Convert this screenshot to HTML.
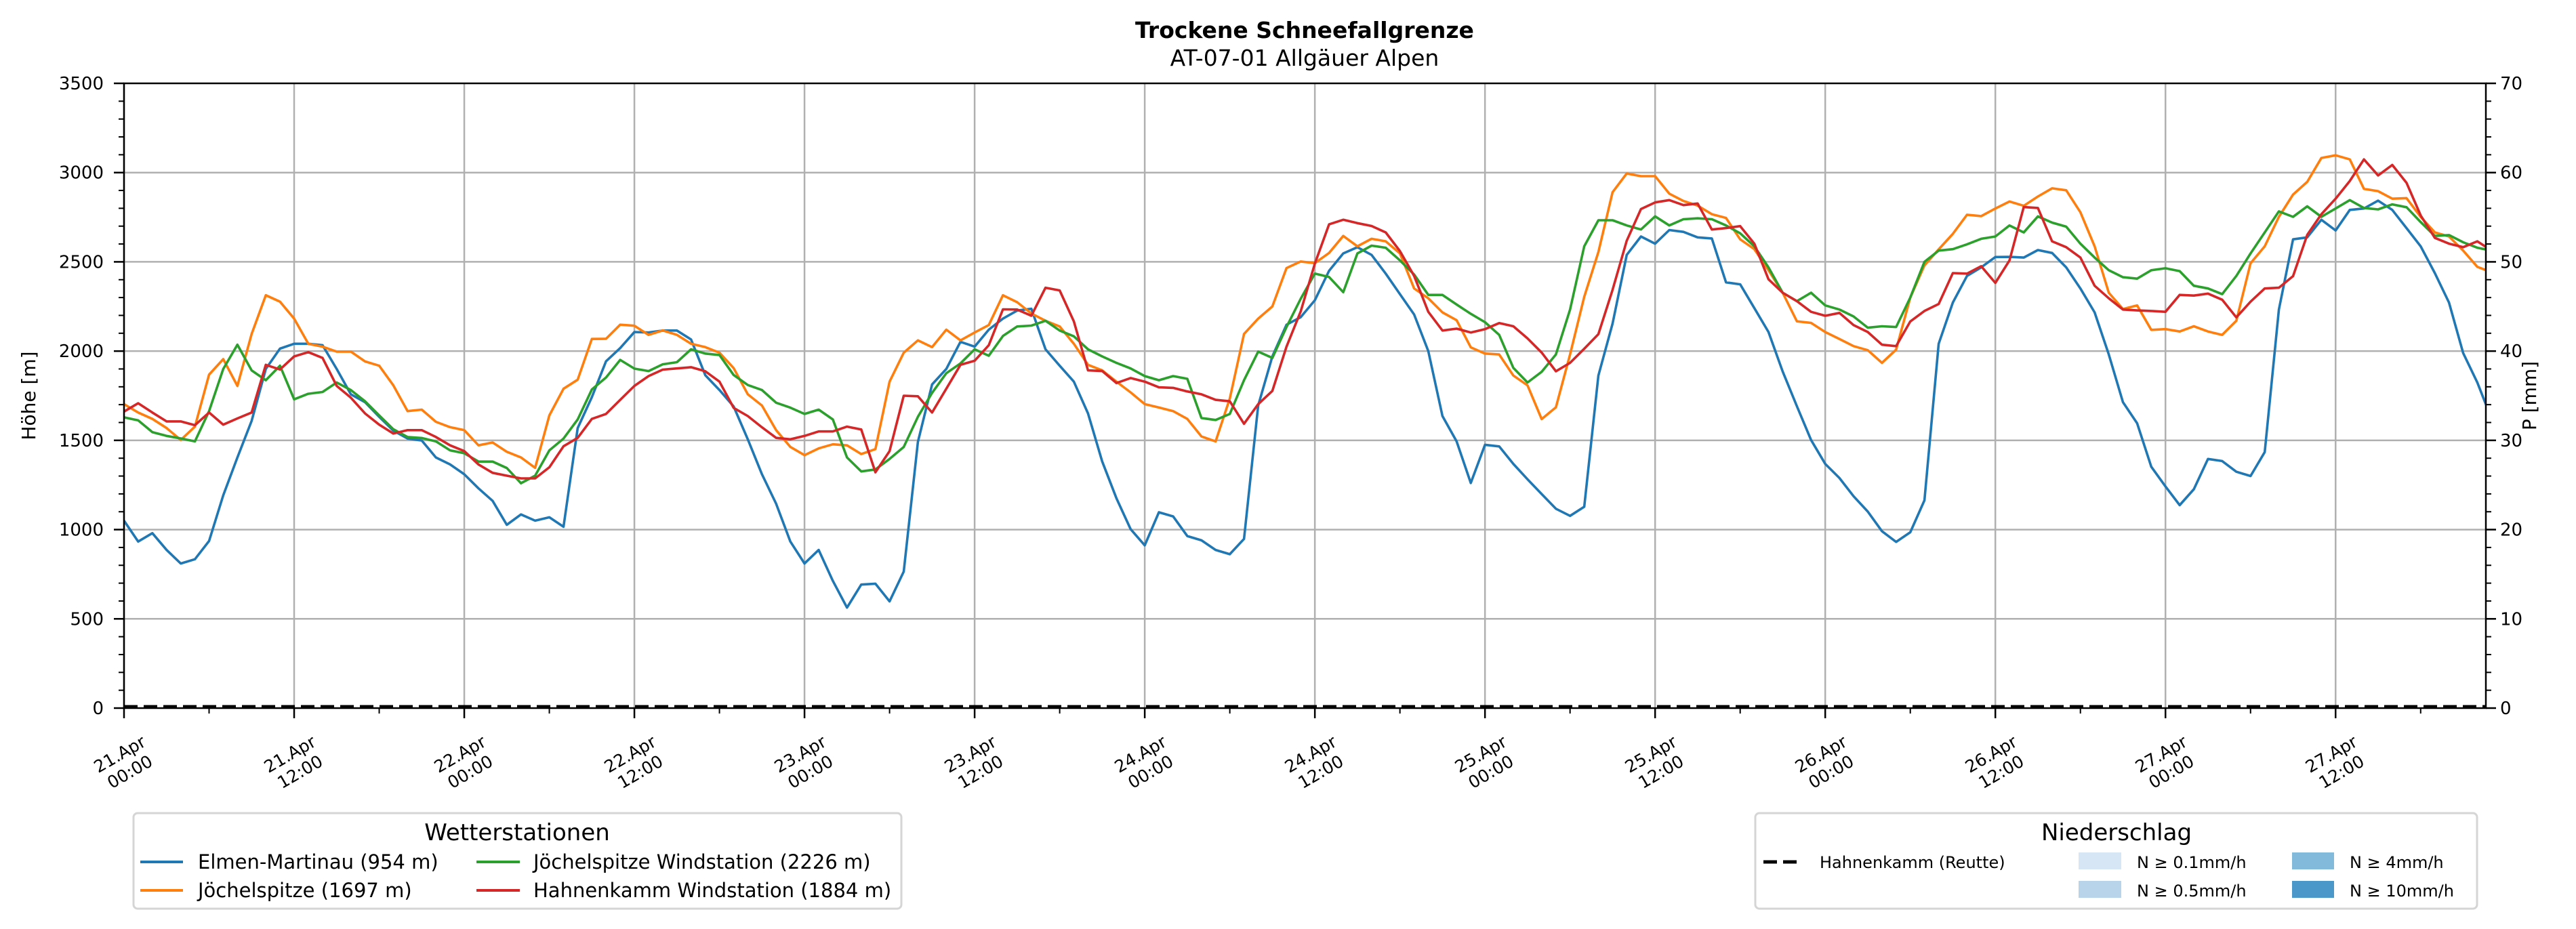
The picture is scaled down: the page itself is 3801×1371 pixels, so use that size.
<!DOCTYPE html>
<html><head><meta charset="utf-8"><style>
html,body{margin:0;padding:0;background:#fff;}
svg{display:block;font-family:"DejaVu Sans","Liberation Sans",sans-serif;}
</style></head><body>
<svg id="chart" width="3801" height="1371" viewBox="0 0 3801 1371" xmlns="http://www.w3.org/2000/svg">
<defs><clipPath id="plotclip"><rect x="183" y="123" width="3485" height="922"/></clipPath></defs>
<text x="1925" y="56" text-anchor="middle" font-size="33" font-weight="bold">Trockene Schneefallgrenze</text>
<text x="1925" y="97" text-anchor="middle" font-size="33">AT-07-01 Allgäuer Alpen</text>
<g id="grid"></g>
<g id="series" clip-path="url(#plotclip)"></g>
<g id="axes"></g>
<text transform="translate(52,584) rotate(-90)" text-anchor="middle" font-size="28">Höhe [m]</text>
<text transform="translate(3742,584) rotate(-90)" text-anchor="middle" font-size="28">P [mm]</text>

<g>
<rect x="197" y="1200" width="1133" height="141" rx="6" fill="#fff" stroke="#d5d5d5" stroke-width="3"/>
<text x="763" y="1240" text-anchor="middle" font-size="34">Wetterstationen</text>
<line x1="207" y1="1272" x2="270" y2="1272" stroke="#1f77b4" stroke-width="4"/>
<text x="292" y="1282" font-size="29">Elmen-Martinau (954 m)</text>
<line x1="207" y1="1314" x2="270" y2="1314" stroke="#ff7f0e" stroke-width="4"/>
<text x="292" y="1324" font-size="29">Jöchelspitze (1697 m)</text>
<line x1="703" y1="1272" x2="767" y2="1272" stroke="#2ca02c" stroke-width="4"/>
<text x="787" y="1282" font-size="29">Jöchelspitze Windstation (2226 m)</text>
<line x1="703" y1="1314" x2="767" y2="1314" stroke="#d62728" stroke-width="4"/>
<text x="787" y="1324" font-size="29">Hahnenkamm Windstation (1884 m)</text>
</g>

<g>
<rect x="2590" y="1200" width="1065" height="141" rx="6" fill="#fff" stroke="#d5d5d5" stroke-width="3"/>
<text x="3123" y="1240" text-anchor="middle" font-size="34">Niederschlag</text>
<line x1="2602" y1="1272" x2="2659" y2="1272" stroke="#000" stroke-width="5" stroke-dasharray="20,9"/>
<text x="2685" y="1281" font-size="24">Hahnenkamm (Reutte)</text>
<rect x="3067" y="1258" width="63" height="25" fill="#d6e6f4"/>
<text x="3153" y="1281" font-size="24">N ≥ 0.1mm/h</text>
<rect x="3067" y="1300" width="63" height="25" fill="#b7d4ea"/>
<text x="3153" y="1323" font-size="24">N ≥ 0.5mm/h</text>
<rect x="3382" y="1258" width="62" height="25" fill="#82badb"/>
<text x="3467" y="1281" font-size="24">N ≥ 4mm/h</text>
<rect x="3382" y="1300" width="62" height="25" fill="#4a98c9"/>
<text x="3467" y="1323" font-size="24">N ≥ 10mm/h</text>
</g>
</svg>
<script>
const elmen = [1050,933,980,886,810,834,936,1192,1404,1609,1900,2014,2041,2041,2033,1900,1758,1714,1632,1554,1510,1499,1404,1365,1310,1231,1161,1027,1085,1050,1069,1016,1569,1742,1943,2017,2107,2104,2115,2115,2065,1865,1782,1690,
1506,1310,1145,933,810,886,713,563,692,697,598,765,1491,1813,1900,2052,2025,2120,2182,2227,2237,2010,1918,1829,1651,1381,1176,1003,912,1097,1074,964,940,886,862,948,1695,1970,2148,2190,2285,2450,
2547,2582,2539,2434,2319,2205,2000,1636,1494,1261,1475,1466,1368,1282,1199,1117,1077,1128,1863,2154,2539,2642,2602,2678,2668,2637,2631,2385,2374,2241,2107,1886,1691,1502,1368,1289,1187,1101,991,931,985,1164,
2041,2272,2421,2469,2527,2528,2524,2566,2550,2469,2351,2217,1981,1714,1596,1352,1242,1137,1226,1396,1384,1324,1300,1434,2233,2626,2637,2736,2676,2791,2799,2843,2791,2689,2587,2437,2272,1989,1824,1620];
const joechel = [1703,1656,1620,1569,1502,1577,1868,1955,1805,2096,2313,2277,2182,2041,2025,1997,1997,1942,1918,1808,1664,1672,1604,1574,1557,1472,1488,1436,1404,1346,1640,1789,1840,2068,2069,2148,2142,2091,2116,2091,2041,2022,1991,1905,
1758,1695,1557,1463,1417,1455,1478,1472,1423,1451,1829,1991,2060,2022,2120,2060,2104,2146,2313,2274,2211,2170,2138,2041,1923,1892,1829,1769,1703,1684,1664,1620,1522,1494,1734,2096,2182,2250,2465,2502,2493,2550,
2645,2587,2629,2615,2547,2351,2296,2217,2173,2021,1986,1981,1863,1808,1619,1685,1981,2304,2555,2890,2995,2980,2980,2882,2841,2815,2767,2746,2626,2571,2453,2327,2167,2158,2107,2068,2028,2005,1934,2008,2300,2480,
2570,2657,2764,2756,2799,2838,2814,2866,2912,2901,2778,2587,2327,2236,2256,2119,2123,2110,2139,2110,2091,2170,2492,2587,2752,2877,2948,3082,3097,3074,2909,2896,2854,2857,2752,2665,2642,2563,2472,2442];
const joechelWind = [1629,1612,1546,1525,1511,1494,1664,1900,2036,1892,1837,1918,1730,1761,1771,1824,1782,1719,1640,1562,1519,1513,1494,1444,1428,1381,1381,1345,1260,1302,1444,1510,1617,1785,1852,1951,1902,1888,1926,1938,2010,1986,1978,1866,
1810,1782,1711,1683,1648,1672,1617,1404,1326,1337,1396,1463,1632,1766,1876,1931,2010,1974,2085,2138,2143,2170,2115,2083,2010,1970,1934,1903,1860,1837,1860,1845,1625,1614,1648,1837,1997,1962,2135,2293,2434,2415,
2330,2547,2591,2579,2508,2429,2315,2315,2261,2209,2162,2091,1906,1824,1884,1981,2233,2587,2733,2733,2704,2681,2755,2704,2739,2744,2739,2704,2660,2587,2469,2327,2280,2327,2256,2233,2194,2131,2139,2135,2300,2500,
2563,2571,2598,2629,2642,2704,2665,2755,2720,2697,2602,2524,2453,2414,2406,2453,2464,2448,2366,2351,2319,2421,2547,2665,2783,2752,2811,2752,2799,2846,2802,2794,2822,2806,2723,2645,2650,2610,2579,2563];
const hahnWind = [1661,1708,1656,1606,1606,1585,1656,1588,1623,1656,1923,1897,1970,1994,1962,1805,1739,1651,1588,1538,1557,1557,1519,1472,1440,1365,1318,1302,1287,1287,1349,1467,1514,1620,1648,1727,1805,1860,1896,1903,1910,1887,1829,1682,
1636,1573,1514,1506,1525,1550,1550,1577,1561,1321,1440,1750,1747,1656,1789,1923,1946,2033,2234,2233,2198,2355,2340,2167,1892,1888,1821,1849,1829,1797,1794,1774,1758,1727,1719,1593,1703,1777,2025,2222,2490,2710,
2736,2717,2701,2665,2560,2421,2220,2115,2126,2104,2123,2157,2139,2071,1992,1887,1934,2013,2095,2343,2618,2796,2833,2846,2818,2827,2681,2689,2700,2602,2402,2327,2280,2220,2198,2214,2146,2107,2036,2028,2166,2225,
2264,2437,2434,2476,2382,2508,2807,2802,2615,2582,2524,2366,2296,2233,2228,2225,2220,2315,2311,2322,2288,2189,2277,2351,2355,2420,2651,2767,2854,2953,3074,2984,3043,2943,2760,2634,2602,2582,2615,2563];
const precipReutte = new Array(168).fill(0);
const xTickLabels = ["21.Apr|00:00","21.Apr|12:00","22.Apr|00:00","22.Apr|12:00","23.Apr|00:00","23.Apr|12:00","24.Apr|00:00","24.Apr|12:00","25.Apr|00:00","25.Apr|12:00","26.Apr|00:00","26.Apr|12:00","27.Apr|00:00","27.Apr|12:00"];
const yTicks = [0,500,1000,1500,2000,2500,3000,3500];
const y2Ticks = [0,10,20,30,40,50,60,70];

const NS="http://www.w3.org/2000/svg";
const X0=183,X1=3668,Y0=1045,Y1=123,HMAX=166.6;
function xs(h){return X0+h*(X1-X0)/HMAX;}
function ys(v){return Y0-v/3500*(Y0-Y1);}
function ys2(p){return Y0-p/70*(Y0-Y1);}
function mk(tag,attrs,parent){const e=document.createElementNS(NS,tag);for(const k in attrs)e.setAttribute(k,attrs[k]);parent.appendChild(e);return e;}
const grid=document.getElementById('grid'),ser=document.getElementById('series'),ax=document.getElementById('axes');

xTickLabels.forEach((lab,i)=>{
  const x=xs(i*12);
  const g=mk('line',{x1:x,y1:Y1,x2:x,y2:Y0,stroke:'#b0b0b0','stroke-width':2.5},grid);
  
  
  const t=mk('line',{x1:x,y1:Y0,x2:x,y2:Y0+15,stroke:'#000','stroke-width':2.5},ax);
  
  
  const m=mk('line',{x1:xs(i*12+6),y1:Y0,x2:xs(i*12+6),y2:Y0+8,stroke:'#000','stroke-width':2},ax);
  
  
  const parts=lab.split('|');
  const tx=mk('text',{transform:`translate(${x},1124) rotate(-30)`,'text-anchor':'middle','font-size':25},ax);
  
  
  mk('tspan',{x:0,y:-4},tx).textContent=parts[0];
  mk('tspan',{x:0,y:26},tx).textContent=parts[1];
});
yTicks.forEach(v=>{
  const y=ys(v);
  if(v>0&&v<3500){const g=mk('line',{x1:X0,y1:y,x2:X1,y2:y,stroke:'#b0b0b0','stroke-width':2.5},grid);
  
  }
  const t=mk('line',{x1:X0-15,y1:y,x2:X0,y2:y,stroke:'#000','stroke-width':2.5},ax);
  
  
  const l=mk('text',{x:X0-30,y:y+9,'text-anchor':'end','font-size':26},ax);
  
  
  l.textContent=v;
});
for(let v=100;v<3500;v+=100){if(v%500===0)continue;const y=ys(v);
  const m=mk('line',{x1:X0-8,y1:y,x2:X0,y2:y,stroke:'#000','stroke-width':2},ax);
  
  }
y2Ticks.forEach(p=>{
  const y=ys2(p);
  const t=mk('line',{x1:X1,y1:y,x2:X1+15,y2:y,stroke:'#000','stroke-width':2.5},ax);
  
  
  const l=mk('text',{x:X1+21,y:y+9,'font-size':26},ax);
  
  
  l.textContent=p;
});
for(let p=2;p<70;p+=2){if(p%10===0)continue;const y=ys2(p);
  const m=mk('line',{x1:X1,y1:y,x2:X1+8,y2:y,stroke:'#000','stroke-width':2},ax);
  
  }

function line(arr,color,name,yfn,extra){
  const d=arr.map((v,i)=>(i?'L':'M')+xs(i).toFixed(1)+','+yfn(v).toFixed(1)).join('');
  const p=mk('path',Object.assign({d:d,fill:'none',stroke:color,'stroke-width':3.6,'stroke-linejoin':'round'},extra||{}),ser);
  
  
}
line(elmen,'#1f77b4','series-elmen-martinau',ys);
line(joechel,'#ff7f0e','series-joechelspitze',ys);
line(joechelWind,'#2ca02c','series-joechelspitze-windstation',ys);
line(hahnWind,'#d62728','series-hahnenkamm-windstation',ys);
line(precipReutte,'#000','series-precip-hahnenkamm-reutte',p=>ys2(p)-2,{'stroke-width':5,'stroke-dasharray':'20,9'});

const frame=mk('rect',{x:X0,y:Y1,width:X1-X0,height:Y0-Y1,fill:'none',stroke:'#000','stroke-width':2.5},ax);


</script>
</body></html>
